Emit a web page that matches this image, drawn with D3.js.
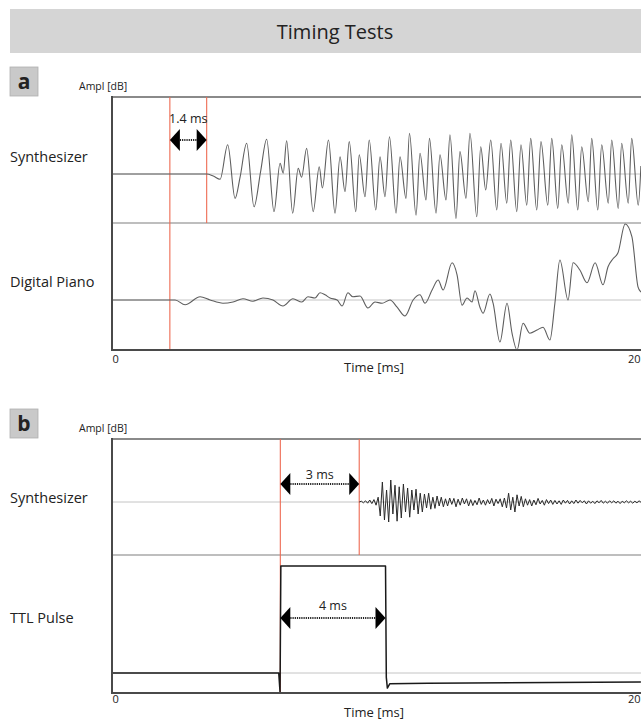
<!DOCTYPE html>
<html>
<head>
<meta charset="utf-8">
<script src="https://cdn.jsdelivr.net/npm/d3@7/dist/d3.min.js"></script>
<style>
  html, body { margin: 0; padding: 0; background: #fff; }
  svg { display: block; }
  text { font-family: "Open Sans", "Noto Sans", sans-serif; fill: #222; }
</style>
</head>
<body>
<svg id="chart" width="641" height="720"></svg>
<script>
// ---- data (time in ms, amplitude in relative units, TTL in volts) ----
const titleText = "Timing Tests";
const timeTicks = [0, 20];

// panel a: onset of the key press marker and the measured synth latency
const panelATracks = ["Synthesizer", "Digital Piano"];
const onsetA = 2.2;
const delayA = 1.4;

// synthesizer output, panel a (extrema of the recorded waveform)
const synthA = [
  [0, 0], [3.6, 0], [3.85, -0.05], [4.11, -0.13], [4.40, 0.73], [4.68, -0.61], [4.87, -0.08],
  [5.12, 0.77], [5.40, -0.82], [5.65, 0.06], [5.88, 0.87], [6.16, -0.94], [6.39, 0.27],
  [6.51, 0.02], [6.64, 0.83], [6.87, -0.98], [7.08, 0.14], [7.21, -0.08], [7.40, 0.64],
  [7.65, -0.94], [7.88, 0.18], [8.00, -0.35], [8.23, 0.85], [8.48, -0.98], [8.67, 0.43],
  [8.86, -0.44], [9.02, 0.81], [9.27, -0.94], [9.40, 0.48], [9.62, -0.57], [9.78, 0.85],
  [10.03, -0.90], [10.19, 0.43], [10.38, -0.57], [10.55, 0.93], [10.80, -0.98], [10.95, 0.43],
  [11.18, -0.61], [11.31, 1.02], [11.56, -1.03], [11.71, 0.52], [11.94, -0.65], [12.07, 0.89],
  [12.32, -0.98], [12.47, 0.48], [12.70, -0.65], [12.85, 0.98], [13.08, -1.11], [13.23, 0.56],
  [13.46, -0.61], [13.61, 1.02], [13.87, -1.07], [14.02, 0.68], [14.21, -0.40], [14.40, 0.85],
  [14.63, -0.90], [14.79, 0.77], [15.01, -0.73], [15.16, 0.85], [15.39, -0.94], [15.55, 0.73],
  [15.77, -0.78], [15.92, 0.89], [16.15, -0.90], [16.31, 0.81], [16.57, -0.78], [16.72, 0.89],
  [16.95, -0.86], [17.10, 0.73], [17.35, -0.73], [17.48, 0.98], [17.71, -0.90], [17.86, 0.68],
  [18.11, -0.69], [18.24, 0.89], [18.47, -0.90], [18.62, 0.73], [18.87, -0.73], [19.00, 0.85],
  [19.25, -0.86], [19.38, 0.77], [19.63, -0.73], [19.76, 0.89], [20.01, -0.78], [20.11, 0.20]
];

// digital piano output, panel a
const pianoA = [
  [0, 0], [2.40, 0], [2.78, -0.12], [3.35, 0.08], [3.73, 0], [4.22, -0.08], [4.60, -0.05],
  [4.98, 0.03], [5.36, -0.03], [5.74, 0.05], [6.12, 0], [6.50, -0.15], [6.88, 0.03],
  [7.22, -0.05], [7.45, 0.08], [7.72, 0.05], [7.91, 0.18], [8.10, 0.13], [8.29, 0.05],
  [8.56, 0], [8.75, -0.15], [8.97, 0.18], [9.16, 0.08], [9.43, 0.10], [9.73, -0.20],
  [10.00, -0.05], [10.27, -0.08], [10.57, 0], [10.84, -0.18], [11.14, -0.40], [11.45, 0],
  [11.71, 0.13], [11.90, -0.08], [12.17, 0.25], [12.40, 0.50], [12.59, 0.25], [12.93, 0.93],
  [13.12, 0.63], [13.31, -0.13], [13.50, 0.05], [13.69, -0.05], [13.80, 0.23], [13.99, -0.18],
  [14.11, -0.33], [14.37, 0.15], [14.49, -0.08], [14.75, -1.05], [15.02, -0.08], [15.21, -0.83],
  [15.40, -1.25], [15.63, -0.58], [15.89, -0.83], [16.16, -0.75], [16.39, -0.68], [16.65, -1.00],
  [16.84, -0.08], [17.03, 1.00], [17.34, 0], [17.53, 0.93], [17.79, 0.75], [18.06, 0.43],
  [18.37, 0.93], [18.67, 0.38], [18.86, 0.83], [19.05, 1.03], [19.24, 1.18], [19.51, 1.90],
  [19.77, 1.58], [20.00, 0.33], [20.11, 0.20]
];

// panel b: TTL pulse onset, pulse width and synth latency
const panelBTracks = ["Synthesizer", "TTL Pulse"];
const pulseOnset = 6.4;
const pulseWidth = 4;
const delayB = 3;

// synthesizer output, panel b, sampled every 0.08 ms from its onset
const synthBStep = 0.08;
const synthBValues = [
  0, 0.02, -0.02, 0.03, -0.03, 0.05, -0.04, 0.06, -0.08, 0.12,
  -0.35, 0.5, -0.45, 0.3, -0.5, 0.55, -0.3, 0.42, -0.48, 0.38,
  -0.4, 0.45, -0.25, 0.35, -0.38, 0.3, -0.2, 0.32, -0.3, 0.22,
  -0.25, 0.2, -0.15, 0.22, -0.18, 0.12, -0.16, 0.15, -0.1, 0.12,
  -0.12, 0.08, -0.1, 0.1, -0.06, 0.09, -0.12, 0.07, -0.08, 0.1,
  -0.05, 0.08, -0.1, 0.06, -0.09, 0.04, -0.07, 0.1, -0.06, 0.05,
  -0.08, 0.06, -0.05, 0.09, -0.1, 0.07, -0.04, 0.08, -0.12, 0.1,
  -0.15, 0.22, -0.2, 0.12, -0.25, 0.18, -0.1, 0.14, -0.12, 0.08,
  -0.08, 0.06, -0.1, 0.05, -0.07, 0.09, -0.05, 0.04, -0.08, 0.06,
  -0.04, 0.05, -0.06, 0.04, -0.05, 0.03, -0.06, 0.05, -0.03, 0.04,
  -0.05, 0.03, -0.04, 0.05, -0.03, 0.04, -0.02, 0.03, -0.05, 0.03,
  -0.03, 0.02, -0.04, 0.03, -0.02, 0.04, -0.03, 0.02, -0.03, 0.03,
  -0.02, 0.03, -0.03, 0.02, -0.04, 0.02, -0.02, 0.03, -0.02, 0.02,
  -0.03, 0.02, -0.02, 0.03, -0.01
];

// TTL pulse (volts)
const ttlPulse = [
  [0, 0], [6.34, 0], [6.39, -0.9], [6.42, 5.0], [10.4, 5.0], [10.43, -0.2],
  [10.47, -0.7], [10.56, -0.5], [12, -0.47], [20.11, -0.42]
];

// ---- layout ----
const W = 641, H = 720;
const svg = d3.select("#chart");
const x = d3.scaleLinear().domain([0, 20]).range([112, 638]);

svg.append("defs").append("clipPath").attr("id", "plotClip")
  .append("rect").attr("x", 112).attr("y", 0).attr("width", W - 112).attr("height", H);

// title bar
svg.append("rect").attr("x", 10).attr("y", 9).attr("width", W - 10).attr("height", 44).attr("fill", "#d5d5d5");
svg.append("text").attr("x", 335).attr("y", 39).attr("text-anchor", "middle")
  .attr("font-size", 20).attr("fill", "#2a2a2a").text(titleText);

const panels = [
  {
    letter: "a", top: 97, bottom: 350, letterY: 67,
    tracks: [
      { name: panelATracks[0], top: 97, base: 174, bottom: 223, labelY: 162, domain: [-1.225, 1.925] },
      { name: panelATracks[1], top: 223, base: 300, bottom: 350, labelY: 287, domain: [-1.25, 1.925] }
    ],
    markers: [
      { t: onsetA, toTrack: 1 },
      { t: onsetA + delayA, toTrack: 0 }
    ],
    arrows: [{ t1: onsetA, t2: onsetA + delayA, y: 140, label: `${delayA} ms`, labelY: 123 }],
    tickY: 363, titleY: 372
  },
  {
    letter: "b", top: 439, bottom: 693, letterY: 409,
    tracks: [
      { name: panelBTracks[0], top: 439, base: 502, bottom: 555, labelY: 503, domain: [-1.325, 1.575] },
      { name: panelBTracks[1], top: 555, base: 673, bottom: 693, labelY: 623, domain: [-0.93, 5.51] }
    ],
    markers: [
      { t: pulseOnset, toTrack: 1 },
      { t: pulseOnset + delayB, toTrack: 0 }
    ],
    arrows: [
      { t1: pulseOnset, t2: pulseOnset + delayB, y: 484, label: `${delayB} ms`, labelY: 479 },
      { t1: pulseOnset, t2: pulseOnset + pulseWidth, y: 618, label: `${pulseWidth} ms`, labelY: 610 }
    ],
    tickY: 703, titleY: 717
  }
];

const series = [
  [synthA, pianoA],
  [synthBValues.map((v, i) => [pulseOnset + delayB + i * synthBStep, v]), ttlPulse]
];
const seriesStyle = [
  [{ stroke: "#5e5e5e", width: 1.1, curve: d3.curveMonotoneX }, { stroke: "#5e5e5e", width: 1.1, curve: d3.curveMonotoneX }],
  [{ stroke: "#2a2a2a", width: 1, curve: d3.curveLinear }, { stroke: "#1a1a1a", width: 1.5, curve: d3.curveLinear }]
];

panels.forEach((p, pi) => {
  const g = svg.append("g");

  // panel letter box
  g.append("rect").attr("x", 10).attr("y", p.letterY).attr("width", 28).attr("height", 29)
    .attr("fill", "#c9c9c9").attr("stroke", "#b0b0b0").attr("stroke-width", 0.8);
  g.append("text").attr("x", 24).attr("y", p.letterY + 22).attr("text-anchor", "middle")
    .attr("font-family", "'Liberation Sans', Arial, sans-serif").attr("font-weight", "bold")
    .attr("font-size", 21).attr("fill", "#111").text(p.letter);
  g.append("text").attr("x", 79).attr("y", p.top - 7).attr("font-size", 10.5).attr("fill", "#333").text("Ampl [dB]");

  // frame: top border, track separators and baselines
  g.append("line").attr("x1", 112).attr("x2", W).attr("y1", p.top).attr("y2", p.top)
    .attr("stroke", "#8a8a8a").attr("stroke-width", 2);
  p.tracks.forEach((tr, ti) => {
    g.append("line").attr("x1", 112).attr("x2", W).attr("y1", tr.base).attr("y2", tr.base)
      .attr("stroke", "#c4c4c4").attr("stroke-width", 1);
    if (ti > 0) {
      g.append("line").attr("x1", 112).attr("x2", W).attr("y1", tr.top).attr("y2", tr.top)
        .attr("stroke", "#a9a9a9").attr("stroke-width", 1.6);
    }
    g.append("text").attr("x", 10).attr("y", tr.labelY).attr("font-size", 14.5).attr("fill", "#222").text(tr.name);
  });

  // latency markers
  p.markers.forEach(m => {
    g.append("line").attr("x1", x(m.t)).attr("x2", x(m.t))
      .attr("y1", p.top).attr("y2", p.tracks[m.toTrack].bottom)
      .attr("stroke", "#ee6a52").attr("stroke-width", 1.1);
  });

  // waveforms
  p.tracks.forEach((tr, ti) => {
    const y = d3.scaleLinear().domain(tr.domain).range([tr.bottom, tr.top]);
    const st = seriesStyle[pi][ti];
    const line = d3.line().x(d => x(d[0])).y(d => y(d[1])).curve(st.curve);
    g.append("path").datum(series[pi][ti]).attr("d", line)
      .attr("clip-path", "url(#plotClip)")
      .attr("fill", "none").attr("stroke", st.stroke).attr("stroke-width", st.width)
      .attr("stroke-linejoin", "round");
  });

  // interval arrows
  p.arrows.forEach(a => {
    const x1 = x(a.t1), x2 = x(a.t2), hw = 10, hh = 11;
    g.append("line").attr("x1", x1 + hw).attr("x2", x2 - hw).attr("y1", a.y).attr("y2", a.y)
      .attr("stroke", "#222").attr("stroke-width", 2).attr("stroke-dasharray", "1.2,1");
    g.append("path").attr("d", `M${x1},${a.y}L${x1 + hw},${a.y - hh}L${x1 + hw},${a.y + hh}Z`).attr("fill", "#000");
    g.append("path").attr("d", `M${x2},${a.y}L${x2 - hw},${a.y - hh}L${x2 - hw},${a.y + hh}Z`).attr("fill", "#000");
    g.append("text").attr("x", (x1 + x2) / 2).attr("y", a.labelY).attr("text-anchor", "middle")
      .attr("font-size", 12.5).attr("fill", "#222").text(a.label);
  });

  // left axis line
  g.append("line").attr("x1", 112).attr("x2", 112).attr("y1", p.top - 1).attr("y2", p.bottom)
    .attr("stroke", "#4a4a4a").attr("stroke-width", 2);

  // time axis
  const axis = d3.axisBottom(x).tickValues(timeTicks).tickSize(0).tickPadding(0).tickFormat(d3.format("d"));
  const ax = g.append("g").attr("transform", `translate(0,${p.bottom})`).call(axis);
  ax.select(".domain").attr("d", `M111,0H${W}`).attr("stroke", "#4a4a4a").attr("stroke-width", 2);
  ax.selectAll(".tick text").attr("y", p.tickY - p.bottom).attr("dy", 0)
    .attr("font-family", "'Open Sans', sans-serif").attr("font-size", 11).attr("fill", "#222")
    .attr("text-anchor", (d, i) => i === 0 ? "start" : "end")
    .attr("x", (d, i) => i === 0 ? 0 : W - 1 - x(d));
  g.append("text").attr("x", 374).attr("y", p.titleY).attr("text-anchor", "middle")
    .attr("font-size", 13).attr("fill", "#222").text("Time [ms]");
});
</script>
</body>
</html>
